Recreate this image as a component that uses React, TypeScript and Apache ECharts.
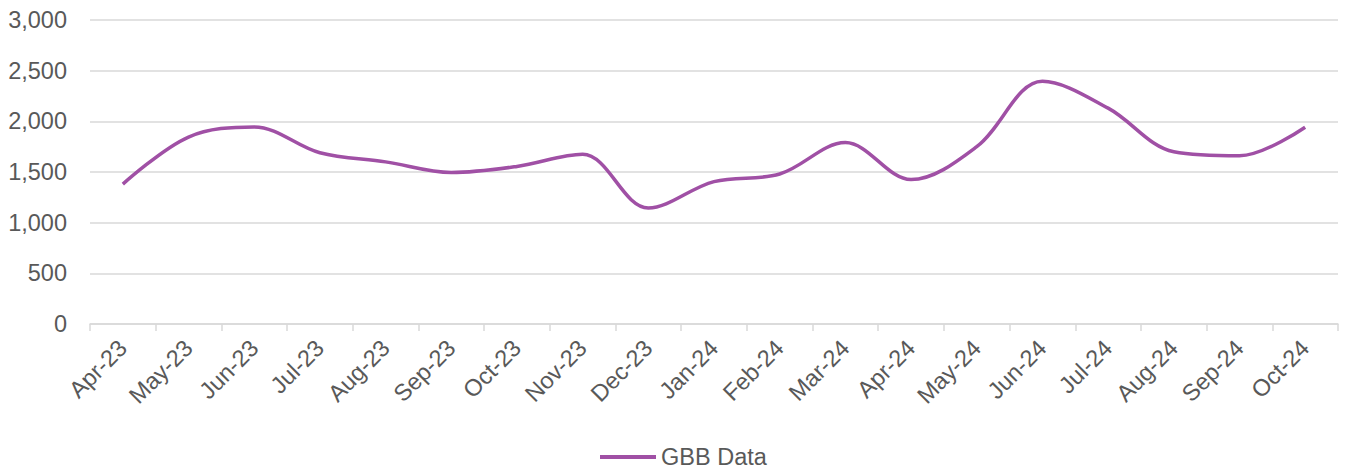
import React, { useEffect, useRef } from "react";
import * as echarts from "echarts";

const categories = [
  "Apr-23", "May-23", "Jun-23", "Jul-23", "Aug-23", "Sep-23", "Oct-23", "Nov-23", "Dec-23",
  "Jan-24", "Feb-24", "Mar-24", "Apr-24", "May-24", "Jun-24", "Jul-24", "Aug-24", "Sep-24", "Oct-24",
];
const gbbData = [
  1380, 1845, 1945, 1690, 1600, 1495, 1555, 1675, 1145,
  1405, 1480, 1790, 1425, 1750, 2395, 2130, 1700, 1660, 1942,
];
const seriesName = "GBB Data";

export default function App() {
  const ref = useRef<HTMLDivElement>(null);
  useEffect(() => {
    if (!ref.current) return;
    const chart = echarts.init(ref.current, null, { renderer: "svg" });
    const font = "'Liberation Sans', Arial, sans-serif";
    chart.setOption({
      animation: false,
      backgroundColor: "#ffffff",
      grid: { left: 90, right: 8, top: 20, bottom: 150, containLabel: false },
      legend: {
        data: [seriesName],
        left: 595,
        top: 440,
        itemWidth: 56,
        itemHeight: 4,
        itemGap: 6,
        icon: "rect",
        textStyle: { fontFamily: font, fontSize: 23.5, color: "#595959" },
      },
      xAxis: {
        type: "category",
        data: categories,
        boundaryGap: true,
        axisLine: { lineStyle: { color: "#d9d9d9", width: 1.5 } },
        axisTick: { show: true, length: 7, lineStyle: { color: "#d9d9d9", width: 1.5 } },
        axisLabel: {
          rotate: 45,
          interval: 0,
          margin: 20,
          fontFamily: font,
          fontSize: 23.5,
          color: "#595959",
        },
        splitLine: { show: false },
      },
      yAxis: {
        type: "value",
        min: 0,
        max: 3000,
        interval: 500,
        axisLine: { show: false },
        axisTick: { show: false },
        axisLabel: {
          margin: 23,
          fontFamily: font,
          fontSize: 23.5,
          color: "#595959",
          formatter: (v: number) => v.toLocaleString("en-US"),
        },
        splitLine: { lineStyle: { color: "#d9d9d9", width: 1.5 } },
      },
      series: [
        {
          name: seriesName,
          type: "line",
          data: gbbData,
          smooth: 0.35,
          showSymbol: false,
          symbol: "none",
          lineStyle: { color: "#a050a5", width: 3.5 },
          itemStyle: { color: "#a050a5" },
        },
      ],
    });
    return () => chart.dispose();
  }, []);
  return (
    <div
      ref={ref}
      style={{ position: "absolute", left: 0, top: 0, width: 1346, height: 474 }}
    />
  );
}
